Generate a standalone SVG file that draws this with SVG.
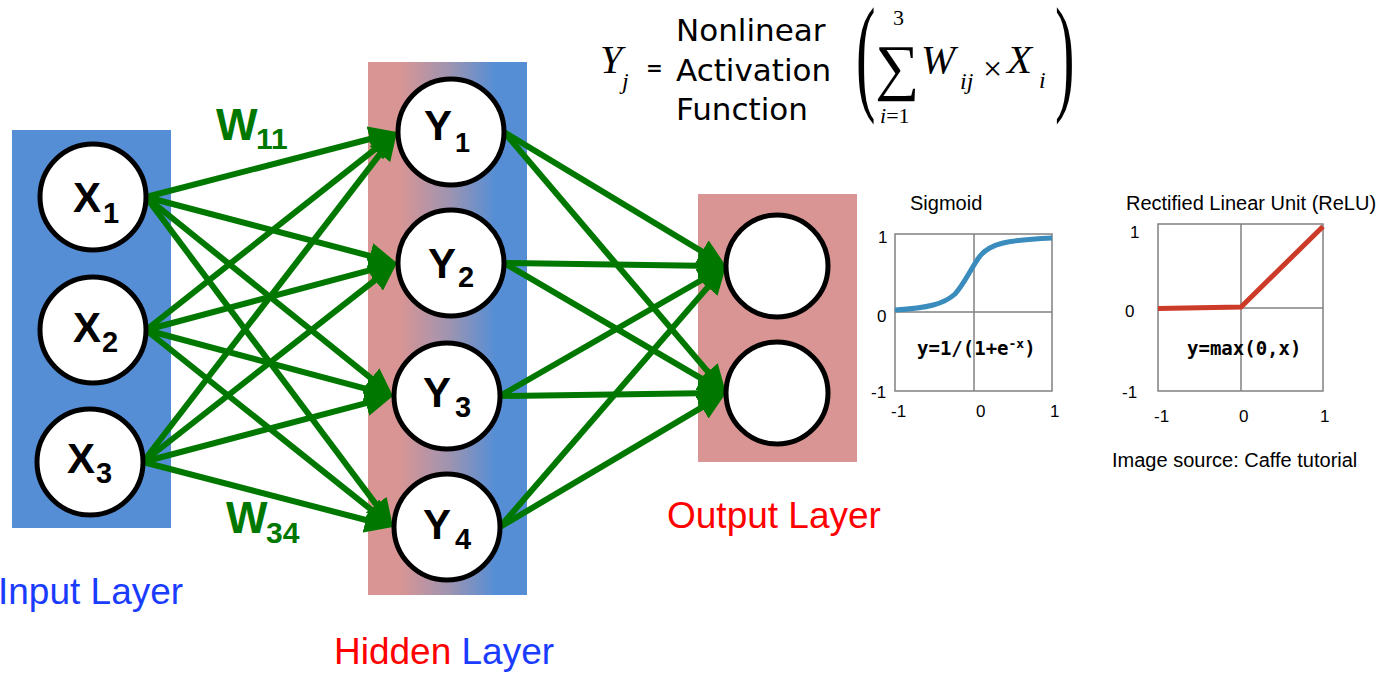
<svg xmlns="http://www.w3.org/2000/svg" width="1383" height="675" viewBox="0 0 1383 675">
<defs>
<linearGradient id="hid" x1="0" y1="0" x2="1" y2="0">
<stop offset="0.2" stop-color="#D99594"/>
<stop offset="0.5" stop-color="#A194AF"/>
<stop offset="0.8" stop-color="#558ED5"/>
</linearGradient>
<marker id="ah" viewBox="0 0 28 26" refX="18" refY="13" markerWidth="28" markerHeight="26" markerUnits="userSpaceOnUse" orient="auto">
<path d="M0,0 L28,13 L0,26 z" fill="#007800"/>
</marker>
<style>
.node{fill:#fff;stroke:#000;stroke-width:5}
.lbl{font-family:"Liberation Sans",Arial,sans-serif;font-weight:bold;fill:#000}
.edge{stroke:#007800;stroke-width:6;fill:none;marker-end:url(#ah)}
.w{font-family:"Liberation Sans",Arial,sans-serif;font-weight:bold;fill:#007800}
.lay{font-family:"Liberation Sans",Arial,sans-serif;font-size:37px}
.ser{font-family:"Liberation Serif","Times New Roman",serif;font-style:italic;fill:#000}
.up{font-family:"Liberation Serif","Times New Roman",serif;font-style:normal;fill:#000}
.dv{font-family:"DejaVu Sans",Verdana,sans-serif;fill:#000}
.ax{font-family:"Liberation Sans",Arial,sans-serif;font-size:17px;fill:#000}
.ttl{font-family:"Liberation Sans",Arial,sans-serif;font-size:20px;fill:#000}
.grid{fill:none;stroke:#808080;stroke-width:1.5}
.mono{font-family:"DejaVu Sans Mono","Liberation Mono",monospace;font-weight:bold;font-size:19px;fill:#000}
</style>
</defs>

<g id="input-layer">
<rect x="12" y="130" width="159" height="398" fill="#558ED5"/>
<text class="lay" x="-2" y="604" fill="#1A3CFF">Input Layer</text>
</g>
<g id="hidden-layer">
<rect x="368" y="62" width="159" height="533" fill="url(#hid)"/>
<text class="lay" x="334" y="664"><tspan fill="#FF0000">Hidden</tspan><tspan fill="#1A3CFF"> Layer</tspan></text>
</g>
<g id="output-layer">
<rect x="698" y="194" width="159" height="268" fill="#D99594"/>
<text class="lay" x="667" y="528" fill="#FF0000">Output Layer</text>
</g>

<g id="connectors">
<line class="edge" x1="146" y1="197" x2="387.3" y2="134.5"/>
<line class="edge" x1="146" y1="197" x2="387.3" y2="260.5"/>
<line class="edge" x1="146" y1="197" x2="385.2" y2="389.7"/>
<line class="edge" x1="146" y1="197" x2="387.0" y2="519.0"/>
<line class="edge" x1="146" y1="330" x2="389.1" y2="138.2"/>
<line class="edge" x1="146" y1="330" x2="387.3" y2="265.6"/>
<line class="edge" x1="146" y1="330" x2="383.3" y2="393.4"/>
<line class="edge" x1="146" y1="330" x2="385.2" y2="520.8"/>
<line class="edge" x1="143" y1="462" x2="390.9" y2="139.9"/>
<line class="edge" x1="143" y1="462" x2="389.1" y2="269.2"/>
<line class="edge" x1="143" y1="462" x2="383.3" y2="398.6"/>
<line class="edge" x1="143" y1="462" x2="383.3" y2="524.5"/>
<line class="edge" x1="504" y1="132" x2="717.4" y2="260.8"/>
<line class="edge" x1="504" y1="132" x2="719.5" y2="385.4"/>
<line class="edge" x1="504" y1="263" x2="716" y2="265.9"/>
<line class="edge" x1="504" y1="263" x2="717.4" y2="387.9"/>
<line class="edge" x1="500" y1="396" x2="717.3" y2="271.0"/>
<line class="edge" x1="500" y1="396" x2="716" y2="393.1"/>
<line class="edge" x1="500" y1="527" x2="719.5" y2="273.6"/>
<line class="edge" x1="500" y1="527" x2="717.4" y2="398.1"/>
</g>

<g id="weight-labels">
<text class="w" x="216" y="140" font-size="44">W<tspan x="256" y="149" font-size="30">11</tspan></text>
<text class="w" x="226" y="533" font-size="44">W<tspan x="266" y="543" font-size="30">34</tspan></text>
</g>

<g id="X1"><circle class="node" cx="93" cy="197" r="53"/><text class="lbl" x="73" y="212" font-size="42">X<tspan x="103" y="223" font-size="29">1</tspan></text></g>
<g id="X2"><circle class="node" cx="93" cy="330" r="53"/><text class="lbl" x="73" y="342" font-size="42">X<tspan x="102" y="352" font-size="29">2</tspan></text></g>
<g id="X3"><circle class="node" cx="90" cy="462" r="53"/><text class="lbl" x="67" y="473" font-size="42">X<tspan x="96" y="483" font-size="29">3</tspan></text></g>

<g id="Y1"><circle class="node" cx="451" cy="132" r="53"/><text class="lbl" x="424" y="140" font-size="42">Y<tspan x="455" y="152" font-size="27">1</tspan></text></g>
<g id="Y2"><circle class="node" cx="451" cy="263" r="53"/><text class="lbl" x="428" y="278" font-size="42">Y<tspan x="458" y="287" font-size="29">2</tspan></text></g>
<g id="Y3"><circle class="node" cx="447" cy="396" r="53"/><text class="lbl" x="423" y="407" font-size="42">Y<tspan x="455" y="417" font-size="29">3</tspan></text></g>
<g id="Y4"><circle class="node" cx="447" cy="527" r="53"/><text class="lbl" x="423" y="539" font-size="42">Y<tspan x="455" y="549" font-size="29">4</tspan></text></g>

<g id="O1"><circle class="node" cx="777" cy="266" r="51"/></g>
<g id="O2"><circle class="node" cx="777" cy="393" r="51"/></g>

<g id="formula">
<text class="ser" x="600" y="73" font-size="40">Y</text>
<text class="ser" x="622" y="89" font-size="24">j</text>
<text class="dv" x="646" y="75" font-size="20" font-weight="bold">=</text>
<text class="dv" x="676" y="41" font-size="31">Nonlinear</text>
<text class="dv" x="676" y="81" font-size="31">Activation</text>
<text class="dv" x="676" y="120" font-size="31">Function</text>
<text class="up" font-size="130" transform="translate(856,97) scale(0.45,1)">(</text>
<text class="up" x="875" y="88" font-size="62">∑</text>
<text class="up" x="893" y="25" font-size="22">3</text>
<text class="up" x="880" y="123" font-size="22"><tspan font-style="italic">i</tspan>=1</text>
<text class="ser" x="921" y="73" font-size="41">W</text>
<text class="ser" x="960" y="89" font-size="24">ij</text>
<text class="up" x="983" y="80" font-size="34">×</text>
<text class="ser" x="1007" y="73" font-size="41">X</text>
<text class="ser" x="1039" y="88" font-size="24">i</text>
<text class="up" font-size="130" transform="translate(1055,97) scale(0.45,1)">)</text>
</g>

<g id="sigmoid-chart">
<text class="ttl" x="910" y="210">Sigmoid</text>
<rect class="grid" x="895" y="234" width="157" height="157"/>
<line class="grid" x1="974" y1="234" x2="974" y2="391"/>
<line class="grid" x1="895" y1="312" x2="1052" y2="312"/>
<path d="M895,310 C928,308 944,304 955,294 C965,283 971,268 980,256 C990,244 1005,240 1052,238" fill="none" stroke="#3A8CBD" stroke-width="5"/>
<text class="ax" x="878" y="243">1</text>
<text class="ax" x="877" y="322">0</text>
<text class="ax" x="871" y="398">-1</text>
<text class="ax" x="891" y="417">-1</text>
<text class="ax" x="976" y="417">0</text>
<text class="ax" x="1050" y="417">1</text>
<text class="mono" x="917" y="355">y=1/(1+e<tspan font-size="13" dy="-7">-x</tspan><tspan dy="7">)</tspan></text>
</g>

<g id="relu-chart">
<text class="ttl" x="1126" y="210">Rectified Linear Unit (ReLU)</text>
<rect class="grid" x="1158" y="224" width="165" height="167"/>
<line class="grid" x1="1241" y1="224" x2="1241" y2="391"/>
<line class="grid" x1="1158" y1="308" x2="1323" y2="308"/>
<polyline points="1158,308.5 1241,307 1323,226.5" fill="none" stroke="#CC3A28" stroke-width="5"/>
<text class="ax" x="1130" y="238">1</text>
<text class="ax" x="1125" y="317">0</text>
<text class="ax" x="1122" y="398">-1</text>
<text class="ax" x="1154" y="422">-1</text>
<text class="ax" x="1239" y="422">0</text>
<text class="ax" x="1320" y="422">1</text>
<text class="mono" x="1187" y="355">y=max(0,x)</text>
<text class="ttl" x="1112" y="467">Image source: Caffe tutorial</text>
</g>
</svg>
